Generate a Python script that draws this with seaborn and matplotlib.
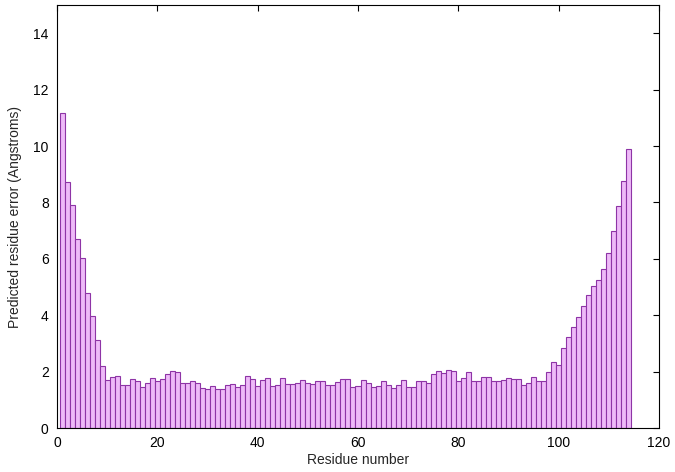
import matplotlib
matplotlib.use("Agg")
import matplotlib.pyplot as plt
import seaborn as sns
import pandas as pd

residues = list(range(1, 115))
errors = [
    11.18, 8.73, 7.91, 6.69, 6.03, 4.80, 3.97, 3.13, 2.19, 1.71,
    1.80, 1.85, 1.54, 1.52, 1.75, 1.66, 1.47, 1.58, 1.77, 1.67,
    1.73, 1.90, 2.03, 1.97, 1.61, 1.61, 1.68, 1.58, 1.41, 1.39,
    1.50, 1.37, 1.37, 1.54, 1.56, 1.47, 1.54, 1.83, 1.72, 1.48,
    1.70, 1.78, 1.48, 1.53, 1.78, 1.57, 1.57, 1.60, 1.69, 1.60,
    1.57, 1.65, 1.65, 1.54, 1.54, 1.62, 1.73, 1.74, 1.45, 1.48,
    1.69, 1.61, 1.44, 1.48, 1.67, 1.53, 1.43, 1.51, 1.70, 1.47,
    1.46, 1.66, 1.66, 1.61, 1.91, 2.03, 1.95, 2.06, 2.03, 1.68,
    1.79, 1.98, 1.68, 1.65, 1.81, 1.81, 1.68, 1.65, 1.71, 1.77,
    1.73, 1.74, 1.54, 1.61, 1.80, 1.68, 1.68, 2.00, 2.34, 2.25,
    2.85, 3.24, 3.59, 3.95, 4.31, 4.70, 5.02, 5.26, 5.63, 6.21,
    6.99, 7.86, 8.75, 9.89,
]
x_ticks = [0, 20, 40, 60, 80, 100, 120]
y_ticks = [0, 2, 4, 6, 8, 10, 12, 14]

sns.set_style("white")
plt.rcParams["font.family"] = ["Liberation Sans", "DejaVu Sans"]

df = pd.DataFrame({"residue": residues, "error": errors})

fig = plt.figure(figsize=(6.75, 4.72), dpi=100)
ax = fig.add_axes([57 / 675, 1 - 428 / 472, (659 - 57) / 675, (428 - 5) / 472])

sns.barplot(data=df, x="residue", y="error", native_scale=True, width=1.0,
            color="#eebaf8", saturation=1, edgecolor="#8e34a6", linewidth=0.8,
            ax=ax)

ax.set_xlim(0, 120)
ax.set_ylim(0, 15)
ax.set_xticks(x_ticks)
ax.set_yticks(y_ticks)
ax.tick_params(direction="in", top=True, right=True, length=4, width=0.8,
               labelsize=10, colors="black", pad=6)
for s in ax.spines.values():
    s.set_color("black")
    s.set_linewidth(0.8)
ax.set_xlabel("Residue number", fontsize=10, labelpad=2)
ax.set_ylabel("Predicted residue error (Angstroms)", fontsize=10, labelpad=8)

fig.savefig("out.png", dpi=100)
